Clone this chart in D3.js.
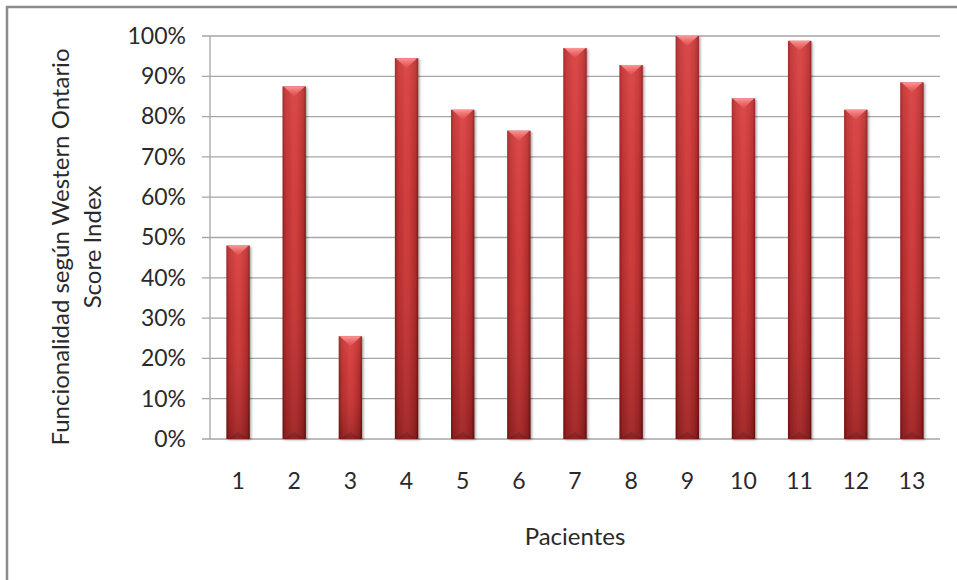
<!DOCTYPE html>
<html>
<head>
<meta charset="utf-8">
<script src="https://cdn.jsdelivr.net/npm/d3@7"></script>
<style>
  html, body { margin: 0; padding: 0; background: #fff; }
  svg { display: block; }
  text { font-family: Lato, "Open Sans", sans-serif; fill: #2a2a2a; }
</style>
</head>
<body>
<svg id="chart" width="957" height="580"></svg>
<script>
// Pacientes y su puntuación funcional (WOSI, %)
const pacientes = ["1","2","3","4","5","6","7","8","9","10","11","12","13"];
const funcionalidad = [48, 87.5, 25.5, 94.5, 81.7, 76.5, 97, 92.8, 100, 84.5, 98.8, 81.7, 88.5];
const yTicks = [0, 10, 20, 30, 40, 50, 60, 70, 80, 90, 100];
const yTitle = ["Funcionalidad según Western Ontario", "Score Index"];
const xTitle = "Pacientes";

const svg = d3.select("#chart");
const W = 957, H = 580;
const plot = { left: 210, right: 940, top: 36, bottom: 439 };

// Marco del gráfico
svg.append("rect")
  .attr("x", 7).attr("y", 7)
  .attr("width", W + 20).attr("height", H + 20)
  .attr("fill", "#fff")
  .attr("stroke", "#8c8c8c").attr("stroke-width", 2.5);

const x = d3.scaleBand()
  .domain(pacientes)
  .range([plot.left, plot.right])
  .paddingInner(0.585)
  .paddingOuter(0.2925);

const y = d3.scaleLinear()
  .domain([0, 100])
  .range([plot.bottom, plot.top]);

// Gradientes de las barras (efecto biselado)
const defs = svg.append("defs");
const hGrad = defs.append("linearGradient").attr("id", "barH")
  .attr("x1", "0%").attr("x2", "100%").attr("y1", "0%").attr("y2", "0%");
[[0, "#7e1616"], [0.12, "#ad2c2c"], [0.45, "#cb3c3c"], [0.6, "#c93a3a"], [0.88, "#a82a2a"], [1, "#6e1212"]]
  .forEach(([o, c]) => hGrad.append("stop").attr("offset", o).attr("stop-color", c));

const vGrad = defs.append("linearGradient").attr("id", "barV")
  .attr("x1", "0%").attr("x2", "0%").attr("y1", "0%").attr("y2", "100%");
[[0, "#ff6a6a", 0.3], [0.4, "#ff5050", 0.1], [1, "#3a0000", 0.28]]
  .forEach(([o, c, a]) => vGrad.append("stop").attr("offset", o).attr("stop-color", c).attr("stop-opacity", a));

const topGrad = defs.append("linearGradient").attr("id", "barTop")
  .attr("x1", "0%").attr("x2", "0%").attr("y1", "0%").attr("y2", "100%");
[[0, "#ff9a9a", 0.95], [1, "#e25252", 0.6]]
  .forEach(([o, c, a]) => topGrad.append("stop").attr("offset", o).attr("stop-color", c).attr("stop-opacity", a));

const shadow = defs.append("filter").attr("id", "sombra")
  .attr("x", "-30%").attr("y", "-10%").attr("width", "170%").attr("height", "130%");
shadow.append("feDropShadow").attr("dx", 1.5).attr("dy", 1).attr("stdDeviation", 1.2)
  .attr("flood-color", "#000").attr("flood-opacity", 0.35);

// Líneas de cuadrícula
svg.append("g")
  .selectAll("line")
  .data(yTicks)
  .join("line")
  .attr("x1", plot.left - 8).attr("x2", plot.right)
  .attr("y1", d => y(d)).attr("y2", d => y(d))
  .attr("stroke", "#a6a6a6").attr("stroke-width", 1.3);

// Eje vertical
svg.append("line")
  .attr("x1", plot.left).attr("x2", plot.left)
  .attr("y1", plot.top).attr("y2", plot.bottom)
  .attr("stroke", "#a6a6a6").attr("stroke-width", 1.3);

// Etiquetas del eje Y
const yAxis = d3.axisLeft(y).tickValues(yTicks).tickFormat(d => d + "%").tickSize(0).tickPadding(24);
const gy = svg.append("g").attr("transform", `translate(${plot.left},0)`).call(yAxis);
gy.select(".domain").remove();
gy.selectAll("text").style("font-size", "23px").attr("fill", "#2a2a2a").attr("font-family", null);

// Etiquetas del eje X
const xAxis = d3.axisBottom(x).tickSize(0).tickPadding(34);
const gx = svg.append("g").attr("transform", `translate(0,${plot.bottom})`).call(xAxis);
gx.select(".domain").remove();
gx.selectAll("text").style("font-size", "23px").attr("fill", "#2a2a2a").attr("font-family", null);

// Barras
const bars = svg.append("g").selectAll("g")
  .data(pacientes.map((p, i) => ({ p, v: funcionalidad[i] })))
  .join("g");

bars.append("rect")
  .attr("x", d => x(d.p)).attr("y", d => y(d.v))
  .attr("width", x.bandwidth()).attr("height", d => y(0) - y(d.v))
  .attr("fill", "url(#barH)")
  .attr("filter", "url(#sombra)");

bars.append("rect")
  .attr("x", d => x(d.p)).attr("y", d => y(d.v))
  .attr("width", x.bandwidth()).attr("height", d => y(0) - y(d.v))
  .attr("fill", "url(#barV)");

// Bisel superior (triángulo claro)
bars.append("path")
  .attr("d", d => {
    const x0 = x(d.p), x1 = x0 + x.bandwidth(), t = y(d.v), c = (x0 + x1) / 2;
    return `M${x0 + 1},${t}L${x1 - 1},${t}L${c},${t + 10}Z`;
  })
  .attr("fill", "url(#barTop)");

// Bisel inferior (oscuro)
bars.append("path")
  .attr("d", d => {
    const x0 = x(d.p), x1 = x0 + x.bandwidth(), b = y(0), c = (x0 + x1) / 2;
    return `M${x0 + 1},${b}L${x1 - 1},${b}L${c},${b - 7}Z`;
  })
  .attr("fill", "#5a0c0c").attr("fill-opacity", 0.25);

// Títulos
const yt = svg.append("text")
  .attr("transform", "translate(59,247) rotate(-90)")
  .attr("text-anchor", "middle")
  .style("font-size", "24px");
yt.selectAll("tspan").data(yTitle).join("tspan")
  .attr("x", 0).attr("dy", (d, i) => i === 0 ? 0 : 32)
  .attr("dominant-baseline", "central")
  .text(d => d);

svg.append("text")
  .attr("x", 575).attr("y", 535)
  .attr("text-anchor", "middle")
  .attr("dominant-baseline", "central")
  .style("font-size", "24px")
  .text(xTitle);
</script>
</body>
</html>
